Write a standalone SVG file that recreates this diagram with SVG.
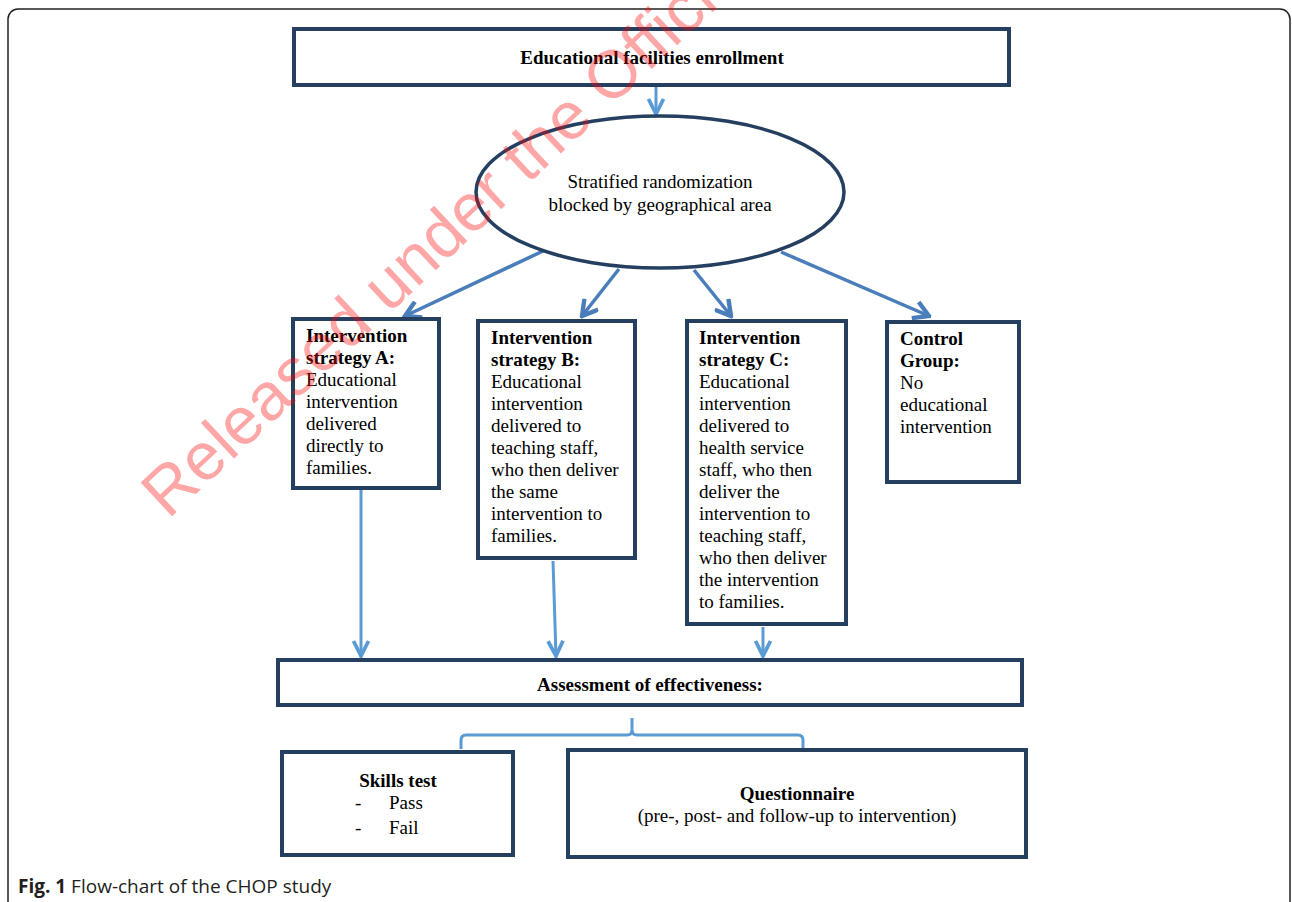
<svg xmlns="http://www.w3.org/2000/svg" width="1292" height="902" viewBox="0 0 1292 902">
<style>
.box{fill:#fff;stroke:#243F60;stroke-width:4}
.t{font-family:"Liberation Serif","Times New Roman",serif;font-size:19px;fill:#000}
.b{font-weight:bold}
.c1{stroke:#4A7EBB;stroke-width:3.5;fill:none}
.c2{stroke:#5B9BD5;stroke-width:3;fill:none}
.cap{font-family:"Open Sans","Noto Sans",sans-serif;font-size:19px;fill:#231f20}
</style>
<defs>
<marker id="ah1" markerUnits="userSpaceOnUse" markerWidth="20" markerHeight="20" viewBox="-14 -8 16 16" refX="0" refY="0" orient="auto">
<path d="M-12,-7 L0,0 L-12,7" fill="none" stroke="#4A7EBB" stroke-width="3.5"/>
</marker>
<marker id="ah2" markerUnits="userSpaceOnUse" markerWidth="20" markerHeight="20" viewBox="-14 -8 16 16" refX="0" refY="0" orient="auto">
<path d="M-12,-6 L0,0 L-12,6" fill="none" stroke="#5B9BD5" stroke-width="3"/>
</marker>
</defs>
<rect x="0" y="0" width="1292" height="902" fill="#fff"/>
<rect x="8" y="9" width="1282" height="1000" rx="10" fill="none" stroke="#222" stroke-width="1.5"/>

<g id="connectors">
<line class="c2" x1="656" y1="87" x2="656" y2="114" marker-end="url(#ah2)"/>
<line class="c1" x1="543" y1="251" x2="405" y2="316" marker-end="url(#ah1)"/>
<line class="c1" x1="619" y1="269" x2="582" y2="316" marker-end="url(#ah1)"/>
<line class="c1" x1="694" y1="270" x2="731" y2="316" marker-end="url(#ah1)"/>
<line class="c1" x1="781" y1="252" x2="929" y2="316" marker-end="url(#ah1)"/>
<line class="c2" x1="361" y1="490" x2="361" y2="656" marker-end="url(#ah2)"/>
<line class="c2" x1="553" y1="561" x2="556" y2="656" marker-end="url(#ah2)"/>
<line class="c2" x1="763" y1="627" x2="763" y2="656" marker-end="url(#ah2)"/>
<path class="c2" d="M632,718 L632,730 Q632,735 627,735 L466,735 Q461,735 461,740 L461,749"/>
<path class="c2" d="M632,730 Q632,735 637,735 L798,735 Q803,735 803,740 L803,749"/>
</g>

<g id="enrollment">
<rect class="box" x="294" y="29" width="715" height="56"/>
<text class="t b" x="652" y="64" text-anchor="middle">Educational facilities enrollment</text>
</g>

<g id="randomization">
<ellipse cx="660" cy="192" rx="184" ry="76" fill="#fff" stroke="#243F60" stroke-width="3.5"/>
<text class="t" x="660" y="188" text-anchor="middle">Stratified randomization</text>
<text class="t" x="660" y="211" text-anchor="middle">blocked by geographical area</text>
</g>

<g id="strategyA">
<rect class="box" x="293" y="319" width="146" height="169"/>
<text class="t" x="306" y="342"><tspan class="b">Intervention</tspan><tspan class="b" x="306" dy="22">strategy A:</tspan><tspan x="306" dy="22">Educational</tspan><tspan x="306" dy="22">intervention</tspan><tspan x="306" dy="22">delivered</tspan><tspan x="306" dy="22">directly to</tspan><tspan x="306" dy="22">families.</tspan></text>
</g>

<g id="strategyB">
<rect class="box" x="478" y="321" width="157" height="237"/>
<text class="t" x="491" y="344"><tspan class="b">Intervention</tspan><tspan class="b" x="491" dy="22">strategy B:</tspan><tspan x="491" dy="22">Educational</tspan><tspan x="491" dy="22">intervention</tspan><tspan x="491" dy="22">delivered to</tspan><tspan x="491" dy="22">teaching staff,</tspan><tspan x="491" dy="22">who then deliver</tspan><tspan x="491" dy="22">the same</tspan><tspan x="491" dy="22">intervention to</tspan><tspan x="491" dy="22">families.</tspan></text>
</g>

<g id="strategyC">
<rect class="box" x="687" y="321" width="159" height="303"/>
<text class="t" x="699" y="344"><tspan class="b">Intervention</tspan><tspan class="b" x="699" dy="22">strategy C:</tspan><tspan x="699" dy="22">Educational</tspan><tspan x="699" dy="22">intervention</tspan><tspan x="699" dy="22">delivered to</tspan><tspan x="699" dy="22">health service</tspan><tspan x="699" dy="22">staff, who then</tspan><tspan x="699" dy="22">deliver the</tspan><tspan x="699" dy="22">intervention to</tspan><tspan x="699" dy="22">teaching staff,</tspan><tspan x="699" dy="22">who then deliver</tspan><tspan x="699" dy="22">the intervention</tspan><tspan x="699" dy="22">to families.</tspan></text>
</g>

<g id="control">
<rect class="box" x="887" y="322" width="132" height="160"/>
<text class="t" x="900" y="345"><tspan class="b">Control</tspan><tspan class="b" x="900" dy="22">Group:</tspan><tspan x="900" dy="22">No</tspan><tspan x="900" dy="22">educational</tspan><tspan x="900" dy="22">intervention</tspan></text>
</g>

<g id="assessment">
<rect class="box" x="278" y="660" width="744" height="45"/>
<text class="t b" x="650" y="691" text-anchor="middle">Assessment of effectiveness:</text>
</g>

<g id="skills">
<rect class="box" x="282" y="752" width="231" height="103"/>
<text class="t b" x="398" y="787" text-anchor="middle">Skills test</text>
<text class="t" x="355" y="809">-</text>
<text class="t" x="389" y="809">Pass</text>
<text class="t" x="355" y="834">-</text>
<text class="t" x="389" y="834">Fail</text>
</g>

<g id="questionnaire">
<rect class="box" x="568" y="750" width="458" height="107"/>
<text class="t b" x="797" y="800" text-anchor="middle">Questionnaire</text>
<text class="t" x="797" y="822" text-anchor="middle">(pre-, post- and follow-up to intervention)</text>
</g>

<text class="cap" x="18" y="893"><tspan font-weight="bold">Fig. 1</tspan> Flow-chart of the CHOP study</text>

<text x="168" y="520" transform="rotate(-43 168 520)" font-family="Liberation Sans, Arial, sans-serif" font-size="67" fill="#ff0000" fill-opacity="0.35">Released under the Official</text>
</svg>
